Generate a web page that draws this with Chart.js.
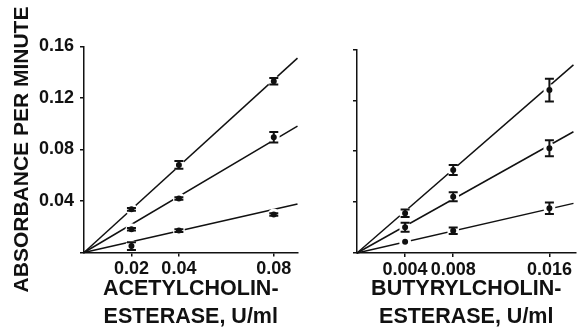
<!DOCTYPE html>
<html>
<head>
<meta charset="utf-8">
<script src="https://cdn.jsdelivr.net/npm/chart.js@4.4.0/dist/chart.umd.min.js"></script>
<style>
  html, body { margin: 0; padding: 0; background: #fff; }
  body { width: 583px; height: 327px; position: relative; overflow: hidden; }
  canvas { position: absolute; top: 0; }
  #ache { left: 0; }
  #bche { left: 305px; }
</style>
</head>
<body>
<canvas id="ache" width="305" height="327"></canvas>
<canvas id="bche" width="278" height="327"></canvas>
<script>
// acetylcholinesterase panel
const acheConc = [0.02, 0.04, 0.08];
const acheHigh = [0.0335, 0.068, 0.133];
const acheHighErr = [0.001, 0.003, 0.0026];
const acheMid = [0.018, 0.042, 0.0895];
const acheMidErr = [0.001, 0.001, 0.004];
const acheLow = [0.005, 0.017, 0.0295];
const acheLowErr = [0.003, 0.001, 0.001];
const acheFitX = [0, 0.09];
const acheFitHigh = [0, 0.151];
const acheFitMid = [0, 0.0982];
const acheFitLow = [0, 0.0377];
const acheTicks = [0.02, 0.04, 0.08];
const acheTickLabels = ['0.02', '0.04', '0.08'];

// butyrylcholinesterase panel
const bcheConc = [0.004, 0.008, 0.016];
const bcheHigh = [0.0312, 0.0652, 0.128];
const bcheHighErr = [0.003, 0.004, 0.009];
const bcheMid = [0.0202, 0.0442, 0.0823];
const bcheMidErr = [0.0035, 0.0035, 0.0063];
const bcheLow = [0.0089, 0.0175, 0.0351];
const bcheLowErr = [0, 0.0025, 0.0045];
const bcheFitX = [0, 0.018];
const bcheFitHigh = [0, 0.1478];
const bcheFitMid = [0, 0.0953];
const bcheFitLow = [0, 0.039];
const bcheTicks = [0.004, 0.008, 0.016];
const bcheTickLabels = ['0.004', '0.008', '0.016'];

// shared absorbance axis
const absTicks = [0, 0.04, 0.08, 0.12, 0.16];
const absTickLabels = ['', '0.04', '0.08', '0.12', '0.16'];

Chart.defaults.font.family = '"Liberation Sans", Arial, sans-serif';
Chart.defaults.color = '#111';

const INK = '#111';
const tickFont = { size: 18, weight: 'bold' };

const errorBars = {
  id: 'errorBars',
  afterDatasetsDraw(chart) {
    const ctx = chart.ctx;
    const yScale = chart.scales.y;
    ctx.save();
    ctx.strokeStyle = INK;
    chart.data.datasets.forEach((ds, i) => {
      if (!ds.errors) return;
      const meta = chart.getDatasetMeta(i);
      meta.data.forEach((pt, j) => {
        const err = ds.errors[j];
        if (!err) return;
        const v = ds.data[j].y;
        const top = yScale.getPixelForValue(v + err);
        const bot = yScale.getPixelForValue(v - err);
        ctx.lineWidth = 2;
        ctx.beginPath();
        ctx.moveTo(pt.x, top);
        ctx.lineTo(pt.x, bot);
        ctx.moveTo(pt.x - 4.5, top);
        ctx.lineTo(pt.x + 4.5, top);
        ctx.moveTo(pt.x - 4.5, bot);
        ctx.lineTo(pt.x + 4.5, bot);
        ctx.stroke();
      });
    });
    ctx.restore();
  }
};

function pairs(xs, ys) {
  return xs.map((x, i) => ({ x: x, y: ys[i] }));
}

function pointSet(xs, ys, errs) {
  return {
    type: 'scatter',
    data: pairs(xs, ys),
    errors: errs,
    pointStyle: 'circle',
    pointRadius: 4.5,
    pointBackgroundColor: INK,
    pointBorderColor: '#fff',
    pointBorderWidth: 3,
    order: 1
  };
}

function fitSet(xs, ys) {
  return {
    type: 'line',
    data: pairs(xs, ys),
    borderColor: INK,
    borderWidth: 1.5,
    pointRadius: 0,
    fill: false,
    clip: false,
    order: 2
  };
}

function makePanel(id, p) {
  return new Chart(document.getElementById(id), {
    type: 'scatter',
    data: {
      datasets: [
        fitSet(p.fitX, p.fitHigh), fitSet(p.fitX, p.fitMid), fitSet(p.fitX, p.fitLow),
        pointSet(p.conc, p.high, p.highErr),
        pointSet(p.conc, p.mid, p.midErr),
        pointSet(p.conc, p.low, p.lowErr)
      ]
    },
    options: {
      responsive: false,
      animation: false,
      events: [],
      layout: { padding: { top: p.top, right: p.right, bottom: 0, left: 0 } },
      plugins: { legend: { display: false }, tooltip: { enabled: false } },
      scales: {
        x: {
          type: 'linear',
          min: 0,
          max: p.xMax,
          z: 1,
          border: { color: INK, width: 1.5 },
          grid: { drawOnChartArea: false, drawTicks: true, tickLength: 4, color: INK, lineWidth: 1.5 },
          afterBuildTicks: (s) => { s.ticks = p.xTicks.map(v => ({ value: v })); },
          afterFit: (s) => { s.height = p.xAxisHeight; },
          ticks: {
            autoSkip: false,
            maxRotation: 0,
            padding: 2,
            font: tickFont,
            callback: (v, i) => p.xTickLabels[i]
          },
          title: {
            display: true,
            text: p.xTitle,
            font: { size: 21.5, weight: 'bold', lineHeight: 1.3 },
            padding: { top: 0, bottom: -4 }
          }
        },
        y: {
          type: 'linear',
          min: 0,
          max: 0.16,
          z: 1,
          border: { color: INK, width: 1.5 },
          grid: { drawOnChartArea: false, drawTicks: true, tickLength: 4, color: INK, lineWidth: 1.5 },
          afterBuildTicks: (s) => { s.ticks = absTicks.map(v => ({ value: v })); },
          afterFit: (s) => { s.width = p.yAxisWidth; },
          ticks: {
            display: p.showY,
            padding: 6,
            font: tickFont,
            callback: (v, i) => absTickLabels[i]
          },
          title: {
            display: p.showY,
            text: 'ABSORBANCE PER MINUTE',
            font: { size: 21, weight: 'bold', lineHeight: 1.2 },
            padding: { top: 10, bottom: 0 }
          }
        }
      }
    },
    plugins: [errorBars]
  });
}

makePanel('ache', {
  conc: acheConc,
  high: acheHigh, highErr: acheHighErr,
  mid: acheMid, midErr: acheMidErr,
  low: acheLow, lowErr: acheLowErr,
  fitX: acheFitX, fitHigh: acheFitHigh, fitMid: acheFitMid, fitLow: acheFitLow,
  xTicks: acheTicks, xTickLabels: acheTickLabels,
  xMax: 0.09,
  xTitle: ['ACETYLCHOLIN-', 'ESTERASE, U/ml'],
  top: 46.5, right: 1,
  xAxisHeight: 74.5, yAxisWidth: 84,
  showY: true
});

makePanel('bche', {
  conc: bcheConc,
  high: bcheHigh, highErr: bcheHighErr,
  mid: bcheMid, midErr: bcheMidErr,
  low: bcheLow, lowErr: bcheLowErr,
  fitX: bcheFitX, fitHigh: bcheFitHigh, fitMid: bcheFitMid, fitLow: bcheFitLow,
  xTicks: bcheTicks, xTickLabels: bcheTickLabels,
  xMax: 0.01817,
  xTitle: ['BUTYRYLCHOLIN-', 'ESTERASE, U/ml'],
  top: 49.4, right: 0,
  xAxisHeight: 74, yAxisWidth: 52,
  showY: false
});
</script>
</body>
</html>
